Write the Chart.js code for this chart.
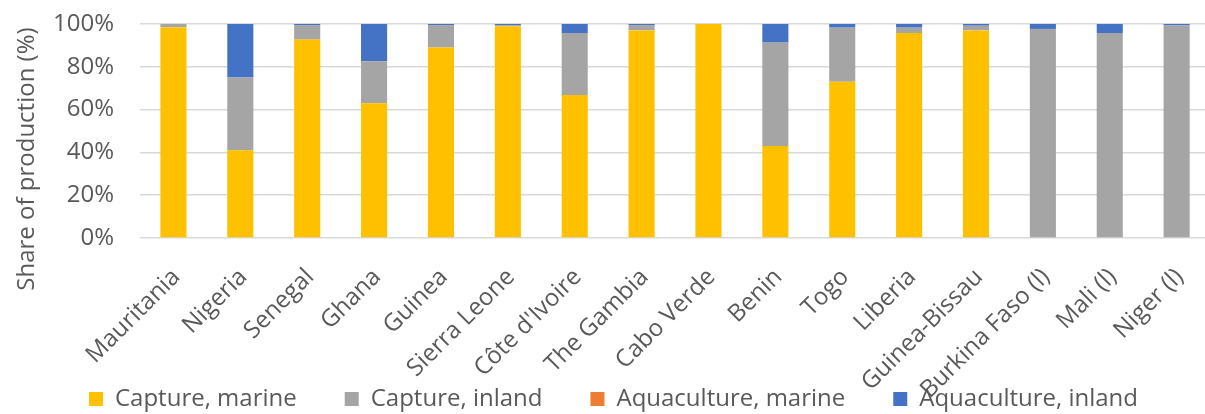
<!DOCTYPE html>
<html>
<head>
<meta charset="utf-8">
<script src="https://cdn.jsdelivr.net/npm/chart.js@4"></script>
<style>
  html, body { margin: 0; padding: 0; background: #fff; overflow: hidden; }
  #wrap { width: 1214px; height: 414px; }
</style>
</head>
<body>
<div id="wrap"><canvas id="shareChart"></canvas></div>
<script>
// data (share of production, %)
const countries = ['Mauritania', 'Nigeria', 'Senegal', 'Ghana', 'Guinea', 'Sierra Leone', "Côte d'Ivoire",
    'The Gambia', 'Cabo Verde', 'Benin', 'Togo', 'Liberia', 'Guinea-Bissau', 'Burkina Faso (l)', 'Mali (l)', 'Niger (l)'];
const captureMarine = [98.5, 41, 92.7, 63, 89, 99, 66.8, 97, 100, 43, 73, 95.8, 97, 0, 0, 0];
const captureInland = [1.5, 34, 6.8, 19.6, 10.5, 0.5, 29, 2.5, 0, 48.3, 25.3, 2.5, 2.2, 97.7, 95.8, 99.3];
const aquaMarine = [0, 0, 0, 0, 0, 0, 0, 0, 0, 0, 0, 0, 0, 0, 0, 0];
const aquaInland = [0, 25, 0.5, 17.4, 0.5, 0.5, 4.2, 0.5, 0, 8.7, 1.7, 1.7, 0.8, 2.3, 4.2, 0.7];
const yTicks = [0, 20, 40, 60, 80, 100];

const textGrey = '#595959';
const gridGrey = '#D9D9D9';
const legendPad = 48;

const makeSet = (label, data, color) => ({
    label: label,
    data: data,
    backgroundColor: color,
    borderWidth: 0,
    barPercentage: 0.39,
    categoryPercentage: 1
});

// the rotated country names run down into the legend row, like in Excel:
// the legend takes no room in the layout and is drawn over the bottom strip
const legendPlacement = {
    id: 'legendPlacement',
    beforeLayout(chart) {
        const lg = chart.legend;
        if (lg && !lg._fixed) {
            const fit = lg.fit.bind(lg);
            lg.fit = () => { fit(); lg.height = 0; };
            lg._fixed = true;
        }
    },
    afterLayout(chart) {
        const lg = chart.legend;
        if (!lg) return;
        lg.top = 399 - 12 - legendPad;
        lg.bottom = chart.height;
        lg.height = lg.bottom - lg.top;
    }
};

new Chart(document.getElementById('shareChart'), {
    type: 'bar',
    data: {
        labels: countries,
        datasets: [
            makeSet('Capture, marine', captureMarine, '#FFC000'),
            makeSet('Capture, inland', captureInland, '#A5A5A5'),
            makeSet('Aquaculture, marine', aquaMarine, '#ED7D31'),
            makeSet('Aquaculture, inland', aquaInland, '#4472C4')
        ]
    },
    plugins: [legendPlacement],
    options: {
        responsive: true,
        maintainAspectRatio: false,
        animation: false,
        layout: { padding: { left: 13, top: 24, right: 0, bottom: 0 } },
        plugins: {
            tooltip: { enabled: false },
            legend: {
                position: 'bottom',
                labels: {
                    boxWidth: 14,
                    boxHeight: 14,
                    padding: legendPad,
                    color: textGrey,
                    font: { family: 'Open Sans', size: 24 }
                }
            }
        },
        scales: {
            x: {
                stacked: true,
                grid: { display: false },
                border: { display: false },
                ticks: {
                    autoSkip: false,
                    minRotation: 45,
                    maxRotation: 45,
                    padding: 17,
                    labelOffset: 3,
                    color: textGrey,
                    font: { family: 'Open Sans', size: 24 }
                },
                afterFit: (axis) => { axis.height = 176; }
            },
            y: {
                stacked: true,
                min: 0,
                max: 100,
                afterBuildTicks: (axis) => { axis.ticks = yTicks.map(v => ({ value: v })); },
                grid: { color: gridGrey, lineWidth: 1.5, drawTicks: false },
                border: { display: false },
                ticks: {
                    autoSkip: false,
                    padding: 26,
                    color: textGrey,
                    font: { family: 'Open Sans', size: 24 },
                    callback: (v) => v + '%'
                },
                title: {
                    display: true,
                    // trailing nbsp: the Excel title sits lower than the plot's middle
                    text: 'Share of production (%)' + '\u00A0'.repeat(9),
                    color: textGrey,
                    padding: 0,
                    font: { family: 'Open Sans', size: 24 }
                },
                afterFit: (axis) => {
                    axis.width = 127;
                    // tick padding would otherwise push the plot top down
                    axis.paddingTop = 0;
                    axis.paddingBottom = 0;
                }
            }
        }
    }
});
</script>
</body>
</html>
